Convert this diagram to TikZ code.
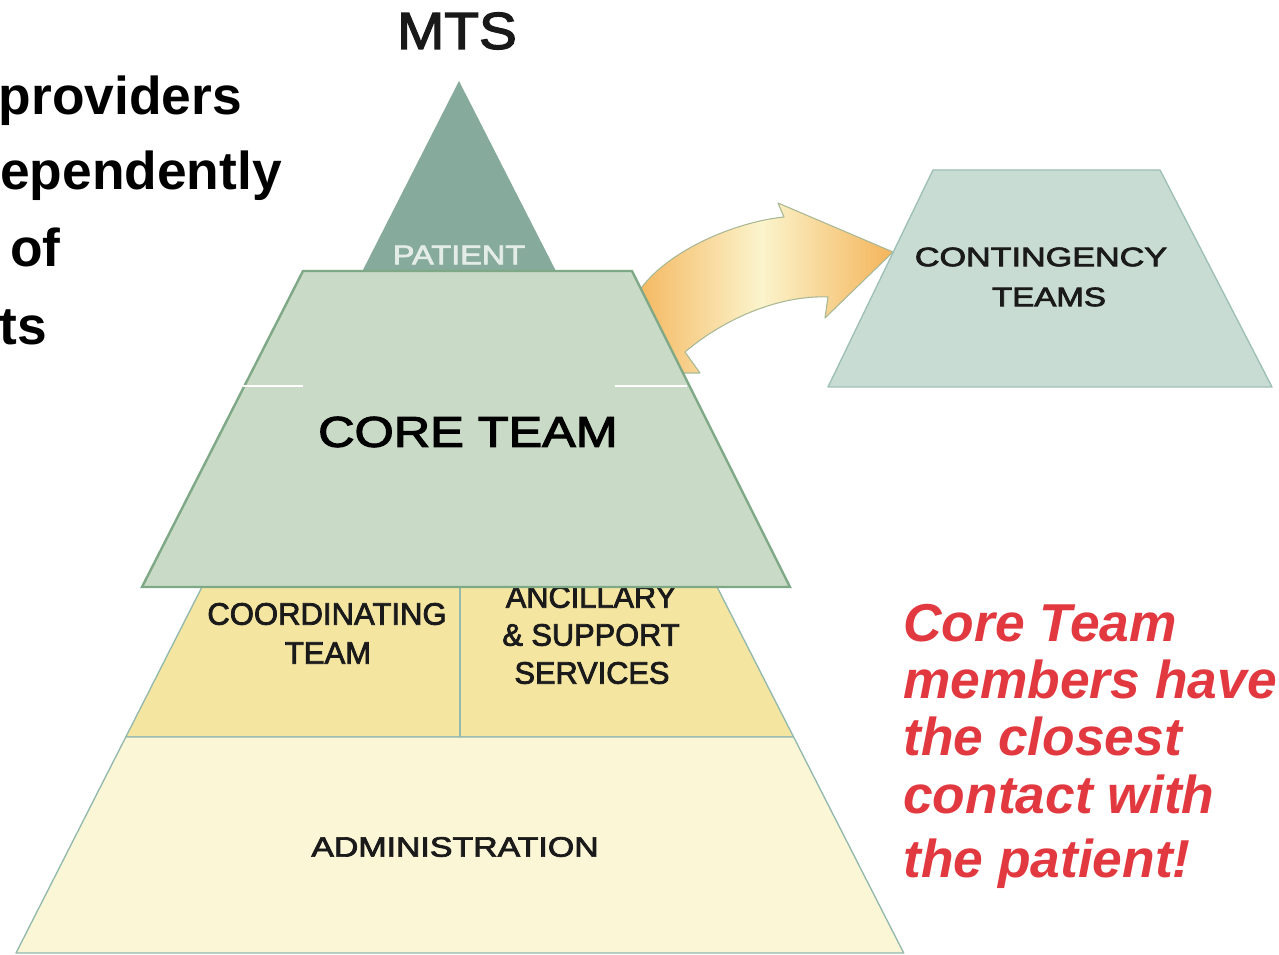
\documentclass[tikz,border=0pt]{standalone}
\usepackage{fontspec}
\setmainfont{Liberation Sans}
\newfontfamily\labelfont[FakeBold=2.5]{Liberation Sans}
\definecolor{patientgreen}{HTML}{86AA9C}
\definecolor{patienttext}{HTML}{E4ECE8}
\definecolor{bandyellow}{HTML}{F4E6A1}
\definecolor{adminyellow}{HTML}{FBF6D6}
\definecolor{pyredge}{HTML}{93B8AE}
\definecolor{corefill}{HTML}{C9DBC7}
\definecolor{coreedge}{HTML}{7FA886}
\definecolor{contfill}{HTML}{C8DCD4}
\definecolor{contedge}{HTML}{9DBFB5}
\definecolor{arrowor}{HTML}{F4B45A}
\definecolor{arrowlt}{HTML}{FBF4CC}
\definecolor{arrowedge}{HTML}{A9B894}
\definecolor{redtext}{HTML}{E2383F}
\definecolor{labeltext}{HTML}{1A1A1A}
\newcommand{\pxfont}[1]{\fontsize{#1}{#1}\selectfont}
\begin{document}
\begin{tikzpicture}[x=0.75pt,y=-0.75pt,
  lbl/.style={inner sep=0pt, text=labeltext, font=\labelfont},
  level/.style={draw=pyredge, line width=1pt, line join=round},
  bigtext/.style={inner sep=0pt, font=\pxfont{40}\bfseries, text=black, anchor=base west},
  redline/.style={inner sep=0pt, font=\pxfont{40}\bfseries\itshape, text=redtext, anchor=base west}]
\useasboundingbox (0,0) rectangle (1279,955);
\fill[white] (0,0) rectangle (1279,955);

% pyramid background
\fill[patientgreen] (459,81) -- (570.7,300) -- (347.7,300) -- cycle;
\node[lbl, text=patienttext] (patient) at (459,255) {\pxfont{20.3}\scalebox{1.2}[1]{PATIENT}};
\filldraw[level, fill=bandyellow] (347.7,300) -- (570.7,300) -- (793.6,737) -- (125.8,737) -- cycle;
\filldraw[level, fill=adminyellow] (125.8,737) -- (793.6,737) -- (903.7,953) -- (16,953) -- cycle;
\draw[level] (460,587) -- (460,737);
\node[lbl] (coord1) at (327,614) {\pxfont{23.3}\scalebox{1.0}[1]{COORDINATING}};
\node[lbl] (coord2) at (328,653) {\pxfont{23.3}\scalebox{1.0}[1]{TEAM}};
\node[lbl] (anc1) at (591,597) {\pxfont{23.3}\scalebox{0.99}[1]{ANCILLARY}};
\node[lbl] (anc2) at (591,635) {\pxfont{23.3}\scalebox{0.99}[1]{\&\ SUPPORT}};
\node[lbl] (anc3) at (592,673) {\pxfont{23.3}\scalebox{0.99}[1]{SERVICES}};
\node[lbl] (admin) at (455,847) {\pxfont{21}\scalebox{1.21}[1]{ADMINISTRATION}};

% curved arrow to contingency teams
\path[draw=arrowedge, line width=0.8pt, line join=round,
      left color=arrowor, right color=arrowor, middle color=arrowlt]
  (700,373) -- (685,352) .. controls (725,318) and (780,295) .. (828,297)
  -- (825,318) -- (893,252) -- (778,203) -- (784,217)
  .. controls (735,222) and (670,250) .. (642,287)
  -- (630,300) -- (650,373) -- cycle;

% core team
\filldraw[fill=corefill, draw=coreedge, line width=1.8pt, line join=miter]
  (303,271) -- (632,271) -- (790,587) -- (142,587) -- cycle;
\draw[white, line width=1pt] (243,386) -- (303,386);
\draw[white, line width=1pt] (615,386) -- (687,386);
\node[lbl, text=black] (core) at (468,432) {\pxfont{32.3}\scalebox{1.17}[1]{CORE TEAM}};

% contingency teams
\filldraw[fill=contfill, draw=contedge, line width=1pt, line join=round]
  (933,170) -- (1160,170) -- (1272,387) -- (828,387) -- cycle;
\node[lbl] (cont1) at (1041,257) {\pxfont{20}\scalebox{1.28}[1]{CONTINGENCY}};
\node[lbl] (cont2) at (1049,297) {\pxfont{20}\scalebox{1.24}[1]{TEAMS}};

% MTS title
\node[lbl, text=black!90] (mts) at (457,31) {\pxfont{39}\scalebox{1.09}[1]{MTS}};

% left (clipped) text
\node[bigtext] (l1) at (-1.5,115) {providers};
\node[bigtext] (l2) at (0,190) {ependently};
\node[bigtext] (l3) at (10,267) {of};
\node[bigtext] (l4) at (-1,345) {ts};

% red note
\node[redline] (r1) at (903,642) {Core Team};
\node[redline] (r2) at (903,698) {members have};
\node[redline] (r3) at (903,755) {the closest};
\node[redline] (r4) at (903,813) {contact with};
\node[redline] (r5) at (903,877) {the patient!};
\end{tikzpicture}
\end{document}
